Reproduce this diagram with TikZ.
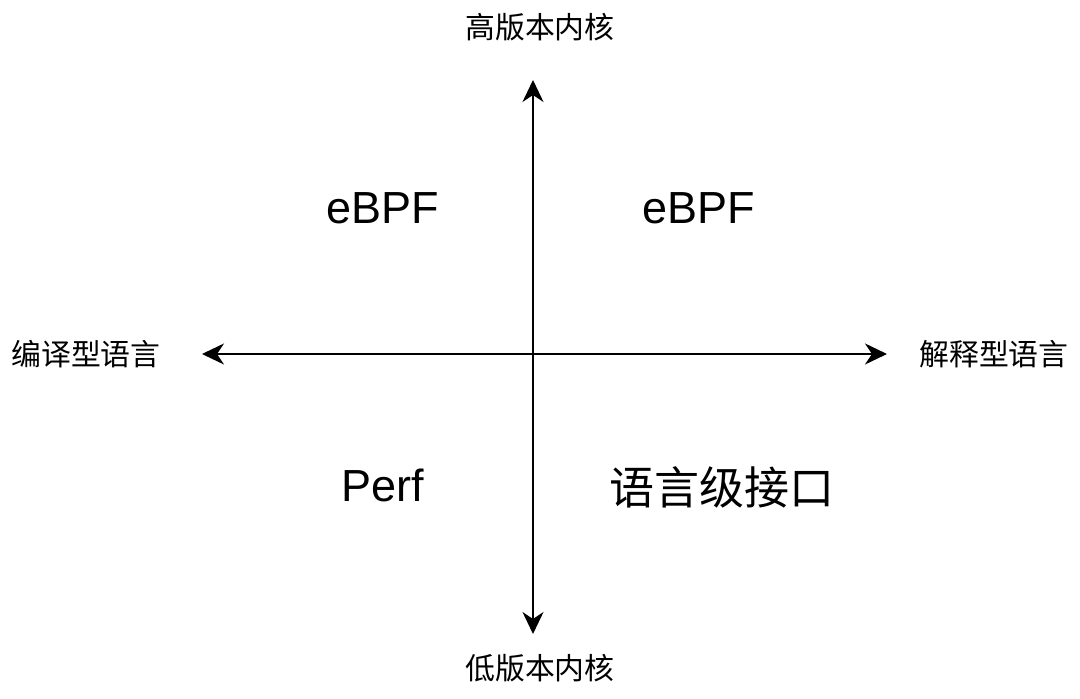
\documentclass[tikz,border=0pt]{standalone}
\usepackage{fontspec}
\setmainfont{Liberation Sans}
\newfontfamily\cjk{Noto Sans CJK SC}
\usetikzlibrary{arrows.meta}

\begin{document}
\begin{tikzpicture}[x=0.02cm,y=-0.02cm,>={Stealth[length=4.4mm,width=4.2mm,inset=1.4mm]},
  axislabel/.style={font=\cjk\fontsize{17}{19}\selectfont,inner sep=0pt},
  quadrant/.style={font=\fontsize{25.6}{28}\selectfont,inner sep=0pt}]
  \useasboundingbox[fill=white] (0,0) rectangle (1080,699);
  % axis ends
  \coordinate (top) at (533,80);
  \coordinate (bottom) at (533,634);
  \coordinate (left) at (202,354);
  \coordinate (right) at (887,354);
  \draw[<->, line width=1.2pt] (top) -- (bottom);
  \draw[<->, line width=1.2pt] (left) -- (right);
  % axis labels
  \node[axislabel] (high) at (540,27) {高版本内核};
  \node[axislabel] (low) at (540,668) {低版本内核};
  \node[axislabel,anchor=west] (compiled) at (11,354) {编译型语言};
  \node[axislabel,anchor=east] (interp) at (1069,354) {解释型语言};
  % quadrants
  \node[quadrant] (q2) at (383,208) {eBPF};
  \node[quadrant] (q1) at (699,208) {eBPF};
  \node[quadrant] (q3) at (383,485) {Perf};
  \node[quadrant,font=\cjk\fontsize{25.6}{28}\selectfont] (q4) at (722,487) {语言级接口};
\end{tikzpicture}
\end{document}
